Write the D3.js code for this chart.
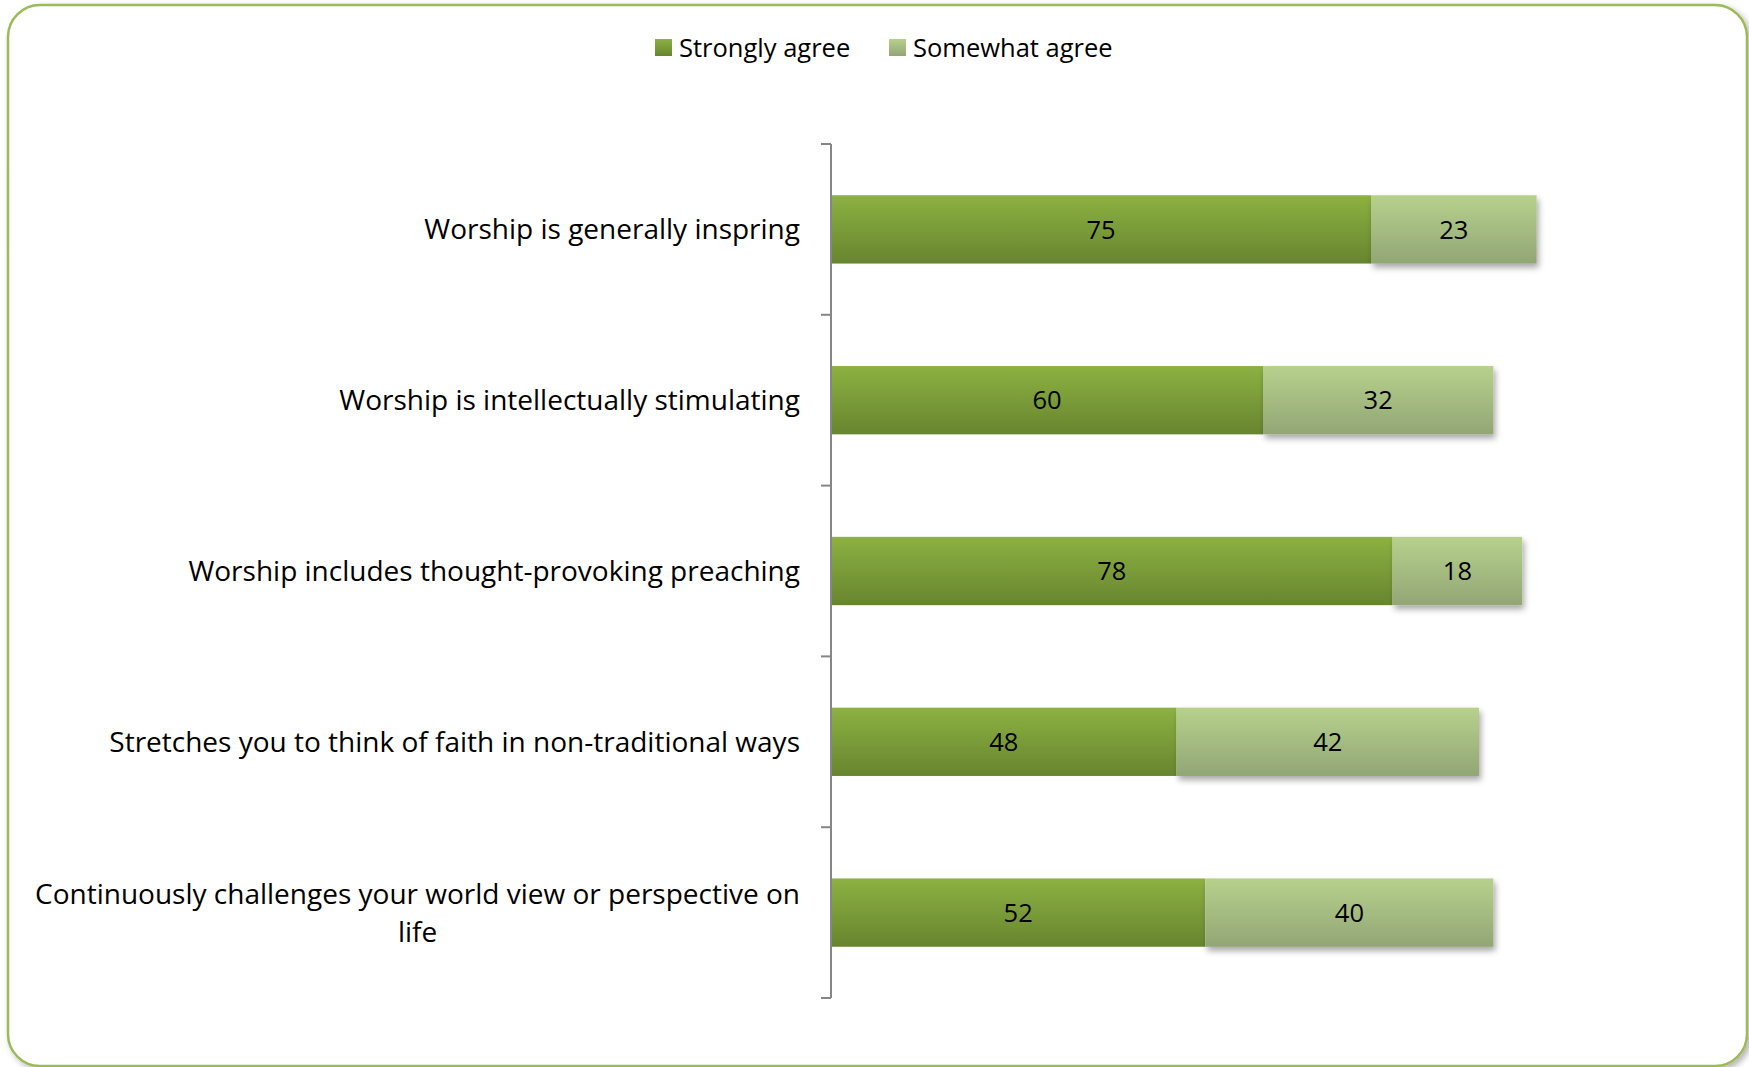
<!DOCTYPE html>
<html><head><meta charset="utf-8">
<script src="https://cdn.jsdelivr.net/npm/d3@7"></script>
<style>
html,body{margin:0;padding:0;background:#fff;}
svg{display:block;font-family:"Open Sans",Lato,sans-serif;}
</style></head>
<body>
<svg id="chart" width="1749" height="1067"></svg>
<script>
const categories = [
  "Worship is generally inspring",
  "Worship is intellectually stimulating",
  "Worship includes thought-provoking preaching",
  "Stretches you to think of faith in non-traditional ways",
  "Continuously challenges your world view or perspective on life"
];
const seriesNames = ["Strongly agree", "Somewhat agree"];
const stronglyAgree = [75, 60, 78, 48, 52];
const somewhatAgree = [23, 32, 18, 42, 40];

const W = 1749, H = 1067;
const catFont = 28, valFont = 25.5, legFont = 25.5;
const svg = d3.select("#chart");
const defs = svg.append("defs");

function grad(id, top, bottom){
  const g = defs.append("linearGradient").attr("id", id).attr("x1",0).attr("y1",0).attr("x2",0).attr("y2",1);
  g.append("stop").attr("offset","0%").attr("stop-color",top);
  g.append("stop").attr("offset","100%").attr("stop-color",bottom);
}
grad("gStrong", "#8db142", "#67852f");
grad("gSome", "#b7d18c", "#92a676");

const sh = defs.append("filter").attr("id","shadow").attr("x","-5%").attr("y","-20%").attr("width","115%").attr("height","160%");
sh.append("feDropShadow").attr("dx",2).attr("dy",4).attr("stdDeviation",3).attr("flood-color","#000").attr("flood-opacity",0.35);
const shB = defs.append("filter").attr("id","shadowB").attr("x","-2%").attr("y","-2%").attr("width","104%").attr("height","104%");
shB.append("feDropShadow").attr("dx",3).attr("dy",3).attr("stdDeviation",3).attr("flood-color","#000").attr("flood-opacity",0.3);

// border
svg.append("rect").attr("x",8).attr("y",5).attr("width",1739).attr("height",1061)
  .attr("rx",32).attr("ry",32).attr("fill","#fff").attr("stroke","#9bbb59").attr("stroke-width",2.5)
  .attr("filter","url(#shadowB)");

const plot = {left: 831, right: 1551, top: 144, bottom: 998};

const y = d3.scaleBand().domain(categories).range([plot.top, plot.bottom]).paddingInner(0.6).paddingOuter(0.3);
const x = d3.scaleLinear().domain([0, 100]).range([plot.left, plot.right]);

const stackData = categories.map((c,i)=>({cat:c, s0:stronglyAgree[i], s1:somewhatAgree[i]}));
const stack = d3.stack().keys(["s0","s1"])(stackData);
const fills = ["url(#gStrong)", "url(#gSome)"];

const barG = svg.append("g");
stack.forEach((layer, li) => {
  barG.append("g").selectAll("rect").data(layer).join("rect")
    .attr("x", d => x(d[0]))
    .attr("y", d => y(d.data.cat))
    .attr("width", d => x(d[1]) - x(d[0]))
    .attr("height", y.bandwidth())
    .attr("fill", fills[li])
    .attr("filter", li === 1 ? "url(#shadow)" : null);
});
stack.forEach((layer, li) => {
  barG.append("g").selectAll("text").data(layer).join("text")
    .attr("x", d => (x(d[0]) + x(d[1]))/2)
    .attr("y", d => y(d.data.cat) + y.bandwidth()/2)
    .attr("dy","0.36em")
    .attr("text-anchor","middle")
    .attr("font-size", valFont)
    .attr("fill","#000")
    .text(d => d[1]-d[0]);
});

// axis with ticks at band boundaries
const axisG = svg.append("g");
axisG.append("line").attr("x1",plot.left).attr("x2",plot.left).attr("y1",plot.top).attr("y2",plot.bottom)
  .attr("stroke","#868686").attr("stroke-width",2);
const bounds = d3.range(categories.length+1).map(i => plot.top + i*y.step());
axisG.selectAll("line.tick").data(bounds).join("line").attr("class","tick")
  .attr("x1",plot.left-10).attr("x2",plot.left).attr("y1",d=>d).attr("y2",d=>d)
  .attr("stroke","#868686").attr("stroke-width",2);

// category labels
const labelRight = 800, maxW = 780, lineH = 38;
const labG = svg.append("g").attr("font-size", catFont).attr("fill","#000");
categories.forEach(c => {
  const cy = y(c) + y.bandwidth()/2;
  const t = labG.append("text").attr("text-anchor","end").attr("x",labelRight).attr("y",cy).attr("dy","0.36em").text(c);
  if (t.node().getComputedTextLength() > maxW) {
    const words = c.split(" ");
    const lines = []; let cur = [];
    t.text("");
    words.forEach(w => {
      cur.push(w);
      t.text(cur.join(" "));
      if (t.node().getComputedTextLength() > maxW && cur.length > 1) {
        cur.pop(); lines.push(cur.join(" ")); cur = [w];
      }
    });
    lines.push(cur.join(" "));
    t.text(lines[0]);
    const w0 = t.node().getComputedTextLength();
    t.text("").attr("text-anchor","middle").attr("x", labelRight - w0/2);
    const startY = cy - (lines.length-1)*lineH/2;
    lines.forEach((l, i) => {
      t.append("tspan").attr("x", labelRight - w0/2).attr("y", startY + i*lineH).attr("dy","0.36em").text(l);
    });
  }
});

// legend
const legend = svg.append("g").attr("font-size", legFont);
const legItems = [{name: seriesNames[0], fill: fills[0], x: 655}, {name: seriesNames[1], fill: fills[1], x: 889}];
legItems.forEach(it => {
  legend.append("rect").attr("x", it.x).attr("y", 39).attr("width",17).attr("height",17).attr("fill", it.fill);
  legend.append("text").attr("x", it.x + 24).attr("y", 47.5).attr("dy","0.36em").text(it.name);
});
</script>
</body></html>
